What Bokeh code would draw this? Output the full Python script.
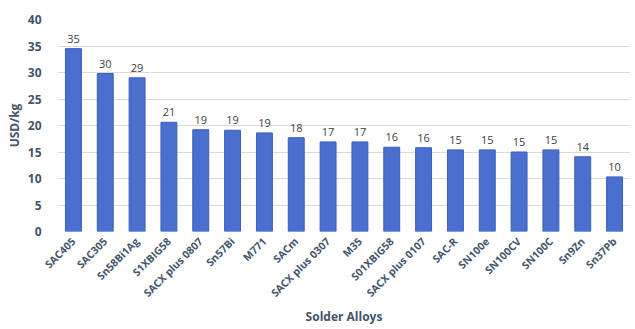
import math
from bokeh.plotting import figure
from bokeh.models import ColumnDataSource, FixedTicker
from bokeh.core.properties import value
from bokeh.embed import file_html
from bokeh.resources import INLINE

alloys = ["SAC405", "SAC305", "Sn58Bi1Ag", "S1XBIG58", "SACX plus 0807", "Sn57Bi",
          "M771", "SACm", "SACX plus 0307", "M35", "S01XBIG58", "SACX plus 0107",
          "SAC-R", "SN100e", "SN100CV", "SN100C", "Sn9Zn", "Sn37Pb"]
prices = [34.5, 29.8, 29.0, 20.6, 19.2, 19.1, 18.6, 17.7, 16.9, 16.9, 15.9, 15.8,
          15.4, 15.4, 15.0, 15.4, 14.1, 10.3]
labels = ["35", "30", "29", "21", "19", "19", "19", "18", "17", "17", "16", "16",
          "15", "15", "15", "15", "14", "10"]
y_ticks = [0, 5, 10, 15, 20, 25, 30, 35, 40]

src = ColumnDataSource(dict(x=alloys, top=prices, lab=labels))

p = figure(x_range=alloys, y_range=(0, 40), width=635, height=329,
           output_backend="svg", toolbar_location=None,
           min_border_left=57, min_border_right=5, min_border_top=19, min_border_bottom=98)
p.outline_line_color = None
p.background_fill_color = "white"

p.vbar(x="x", top="top", width=0.5, source=src, fill_color="#4A6FCF",
       line_color="#3A5DB8", line_width=1)
p.text(x="x", y="top", text="lab", source=src, text_align="center",
       text_baseline="bottom", y_offset=-6, text_font_size="11px",
       text_color="#404040", text_font=value("Open Sans"))

p.xgrid.grid_line_color = None
p.ygrid.grid_line_color = "#D9D9D9"
p.ygrid.grid_line_width = 1
p.yaxis.ticker = FixedTicker(ticks=y_ticks)

for ax in (p.xaxis, p.yaxis):
    ax.axis_line_color = None
    ax.major_tick_line_color = None
    ax.minor_tick_line_color = None
    ax.major_label_text_font = "Open Sans"
    ax.major_label_text_font_style = "bold"
    ax.major_label_text_color = "#44546A"
    ax.major_label_text_font_size = "10.5px"
    ax.axis_label_text_font = "Open Sans"
    ax.axis_label_text_font_style = "bold"
    ax.axis_label_text_color = "#44546A"
    ax.axis_label_text_font_size = "12px"

p.yaxis.major_label_text_font_size = "12px"
p.xaxis.major_label_orientation = math.pi / 4
p.xaxis.major_label_standoff = 2
p.yaxis.major_label_standoff = 10
p.xaxis.axis_label = "Solder Alloys"
p.yaxis.axis_label = "USD/kg"
p.xaxis.axis_label_standoff = 0
p.yaxis.axis_label_standoff = 2

open("out.html", "w").write(file_html(p, INLINE))
